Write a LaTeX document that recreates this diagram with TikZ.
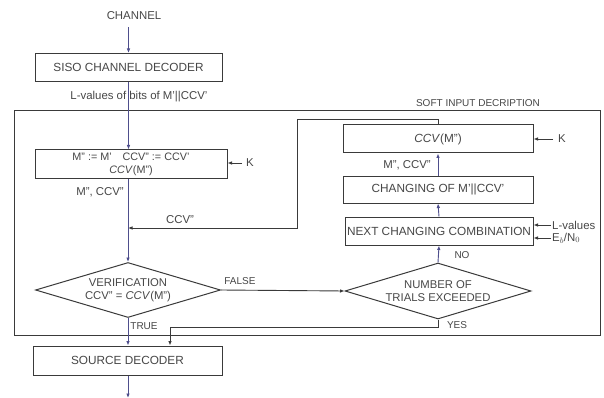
\documentclass[tikz,border=0pt]{standalone}
\usepackage{fontspec}
\setmainfont{Liberation Sans}
\usetikzlibrary{arrows.meta,shapes.geometric}
\definecolor{grau}{HTML}{474747}
\definecolor{rahmen}{HTML}{3A3A3A}
\definecolor{blau}{HTML}{4E4E8C}
\tikzset{
  pf/.style={-{Latex[length=4.5pt,width=3.6pt]},rahmen,line width=0.9pt},
  pfb/.style={pf,blau},
  blk/.style={draw=rahmen,line width=1pt,text=grau,minimum height=28pt,inner sep=1pt,font=\fontsize{11.8}{13}\selectfont},
  dia/.style={diamond,draw=rahmen,line width=1pt,text=grau,aspect=3.35,inner sep=0pt,align=center,font=\fontsize{11.3}{12.5}\selectfont},
  lbl/.style={text=grau,inner sep=1pt,font=\fontsize{11.4}{13}\selectfont},
}

\begin{document}
\begin{tikzpicture}[x=1pt,y=-1pt]
  \useasboundingbox (0,0) rectangle (604,398);
  \fill[white] (0,0) rectangle (604,398);
  % soft input decription frame
  \draw[rahmen,line width=1pt] (14,111) rectangle (600,335);
  \node[lbl,font=\fontsize{10}{12}\selectfont] (soft) at (478,103) {SOFT INPUT DECRIPTION};
  % left column
  \node[lbl] (chan) at (134,16) {CHANNEL};
  \node[blk,minimum width=187pt] (siso) at (128.5,67.5) {SISO CHANNEL DECODER};
  \node[blk,minimum width=192pt,align=center,font=\fontsize{10.8}{13}\selectfont] (mbox) at (131,164)
    {M'' := M'\quad CCV'' := CCV'\\\textit{CCV}(M'')};
  \node[dia,minimum width=185pt,minimum height=55pt] (ver) at (128,290)
    {VERIFICATION\\CCV'' = \textit{CCV}(M'')};
  \node[blk,minimum width=189pt,minimum height=29pt] (src) at (127.5,360.5) {SOURCE DECODER};
  % right column
  \node[blk,minimum width=190pt] (ccv) at (438,139) {\textit{CCV}(M'')};
  \node[blk,minimum width=190pt,minimum height=27pt] (chg) at (438,189.5) {CHANGING OF M'||CCV'};
  \node[blk,minimum width=188pt] (nxt) at (439,231) {NEXT CHANGING COMBINATION};
  \node[dia,minimum width=186pt,minimum height=56pt] (num) at (438,291)
    {NUMBER OF\\TRIALS EXCEEDED};
  % side inputs
  \node[lbl] (k1) at (250,163) {K};
  \node[lbl] (k2) at (562,139) {K};
  \node[lbl,anchor=west] (lv) at (551,225) {L-values};
  \node[lbl,anchor=west] (eb) at (551,238) {E$_b$/N$_0$};
  % labels
  \node[lbl] (lbits) at (139,97) {L-values of bits of M'||CCV'};
  \node[lbl] (lm1) at (100,192) {M'', CCV''};
  \node[lbl] (lm2) at (407,165) {M'', CCV''};
  \node[lbl] (lccv) at (180,220) {CCV''};
  \node[lbl,font=\fontsize{10}{12}\selectfont] (lfalse) at (240,281) {FALSE};
  \node[lbl,font=\fontsize{10}{12}\selectfont] (lno) at (462,255) {NO};
  \node[lbl,font=\fontsize{10}{12}\selectfont] (ltrue) at (144,326) {TRUE};
  \node[lbl,font=\fontsize{10}{12}\selectfont] (lyes) at (457,325) {YES};
  \coordinate (j1) at (128,228);
  \coordinate (c1) at (297,119);
  \coordinate (y1) at (170,327);
  \coordinate (out) at (128,398);
  % connectors
  \draw[pfb,shorten <=6pt] (chan.south -| siso.north) -- (siso.north);
  \draw[pfb] (siso.south) -- (siso.south |- mbox.north);
  \draw[blau,line width=0.9pt] (mbox.south -| j1) -- (j1);
  \draw[pfb] (j1) -- (ver.north);
  \draw[pf] (ccv.north) |- (c1) |- (j1);
  \draw[pf] (ver.east) -- (num.west);
  \draw[pfb] (num.north) -- (nxt.south);
  \draw[pfb] (nxt.north) -- (chg.south);
  \draw[pfb] (chg.north) -- (ccv.south);
  \draw[pf] (num.south) |- (y1) -- (y1 |- src.north);
  \draw[pfb] (ver.south) -- (ver.south |- src.north);
  \draw[pfb] (src.south -| out) -- (out);
  \draw[pf,shorten <=3pt] (k1.west) -- (k1.west -| mbox.east);
  \draw[pf,shorten <=4pt] (k2.west) -- (k2.west -| ccv.east);
  \draw[pf] (lv.west) -- (lv.west -| nxt.east);
  \draw[pf] (eb.west) -- (eb.west -| nxt.east);
\end{tikzpicture}
\end{document}
